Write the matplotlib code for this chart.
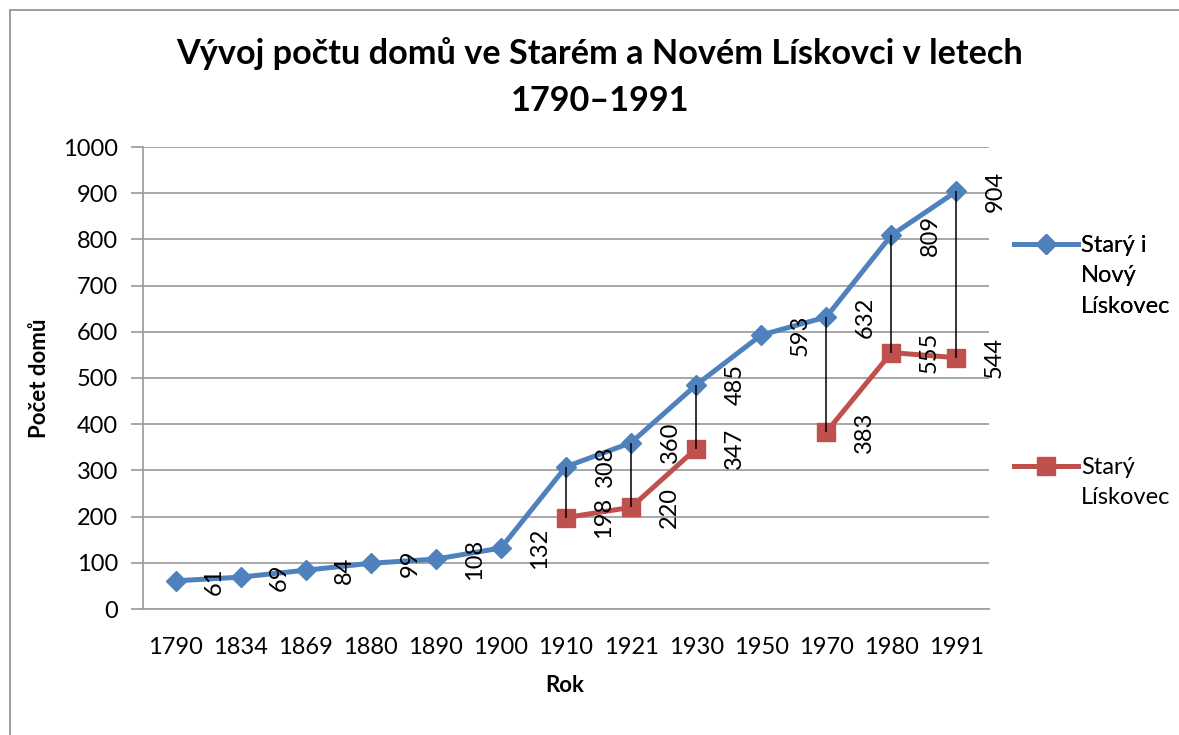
import numpy as np
import matplotlib
matplotlib.use("Agg")
import matplotlib.pyplot as plt
from matplotlib.lines import Line2D
from matplotlib.patches import Rectangle

years = ["1790", "1834", "1869", "1880", "1890", "1900", "1910", "1921",
         "1930", "1950", "1970", "1980", "1991"]
stary_novy = [61, 69, 84, 99, 108, 132, 308, 360, 485, 593, 632, 809, 904]
stary = [np.nan, np.nan, np.nan, np.nan, np.nan, np.nan, 198, 220, 347,
         np.nan, 383, 555, 544]
label1 = "Starý i\nNový\nLískovec"
label2 = "Starý\nLískovec"
title = "Vývoj počtu domů ve Starém a Novém Lískovci v letech\n1790–1991"
ylabel = "Počet domů"
xlabel = "Rok"

FONT = ["Lato", "DejaVu Sans"]
plt.rcParams['font.family'] = FONT

blue = "#4F81BD"
red = "#C0504D"
grid = "#A0A0A0"

fig = plt.figure(figsize=(11.79, 7.35), dpi=100)
fig.patches.append(Rectangle((10 / 1179, -0.1), 1.2, (725 / 735) + 0.1,
                             transform=fig.transFigure, fill=False,
                             edgecolor="#8C8C8C", linewidth=1.2))

ax = fig.add_axes([143 / 1179, 126 / 735, 846 / 1179, 462 / 735])
x = np.arange(len(years))
s1 = np.array(stary_novy, dtype=float)
s2 = np.array(stary, dtype=float)

ax.plot(x, s1, color=blue, lw=3.6, marker="D", markersize=10.5, zorder=3,
        solid_capstyle="round")
ax.plot(x, s2, color=red, lw=3.6, marker="s", markersize=13, zorder=3)

mask = ~np.isnan(s2)
ax.vlines(x[mask], s2[mask], s1[mask], color="black", lw=1.1, zorder=4)

ax.set_xlim(-0.5, len(years) - 0.5)
ax.set_ylim(0, 1000)
ax.set_yticks(np.arange(0, 1001, 100))
ax.set_xticks(x)
ax.set_xticklabels(years)
ax.yaxis.grid(True, color=grid, lw=1.3)
ax.set_axisbelow(True)
for sp in ["top", "right"]:
    ax.spines[sp].set_visible(False)
ax.spines["left"].set_color(grid)
ax.spines["left"].set_linewidth(1.3)
ax.spines["bottom"].set_color(grid)
ax.spines["bottom"].set_linewidth(1.3)
ax.tick_params(axis="y", length=9, width=1.3, color=grid, labelsize=17, pad=9)
ax.tick_params(axis="x", length=0, labelsize=17, pad=20)

for xi, v in zip(x, s1):
    ax.annotate(f"{int(v)}", (xi, v), xytext=(39, 0), textcoords="offset pixels",
                rotation=90, ha="center", va="center", fontsize=17, zorder=5)
for xi, v in zip(x, s2):
    if not np.isnan(v):
        ax.annotate(f"{int(v)}", (xi, v), xytext=(38, 0), textcoords="offset pixels",
                    rotation=90, ha="center", va="center", fontsize=17, zorder=5)

fig.text(600 / 1179, 1 - 77 / 735, title, ha="center", va="center",
         fontsize=24.7, fontweight="bold", linespacing=1.55)
fig.text(40 / 1179, 1 - 378 / 735, ylabel, rotation=90, ha="center", va="center",
         fontsize=16, fontweight="bold")
fig.text(565 / 1179, 1 - 685 / 735, xlabel, ha="center", va="center",
         fontsize=16, fontweight="bold")

blank = Line2D([], [], linestyle="none")
h1 = Line2D([], [], color=blue, lw=3.6, marker="D", markersize=10.5)
h2 = Line2D([], [], color=red, lw=3.6, marker="s", markersize=13)
l1 = label1.split("\n")
l2 = label2.split("\n")
leg1 = fig.legend([h1, blank, blank], l1, loc="upper left",
                  bbox_to_anchor=(1014 / 1179, 1 - 235 / 735), frameon=False,
                  fontsize=17, handlelength=2.7, handletextpad=0.15,
                  labelspacing=0.4, borderaxespad=0, borderpad=0)
leg2 = fig.legend([h2, blank], l2, loc="upper left",
                  bbox_to_anchor=(1014 / 1179, 1 - 457 / 735), frameon=False,
                  fontsize=17, handlelength=2.7, handletextpad=0.15,
                  labelspacing=0.4, borderaxespad=0, borderpad=0)
fig.add_artist(leg1)

fig.savefig("out.png", dpi=100)
